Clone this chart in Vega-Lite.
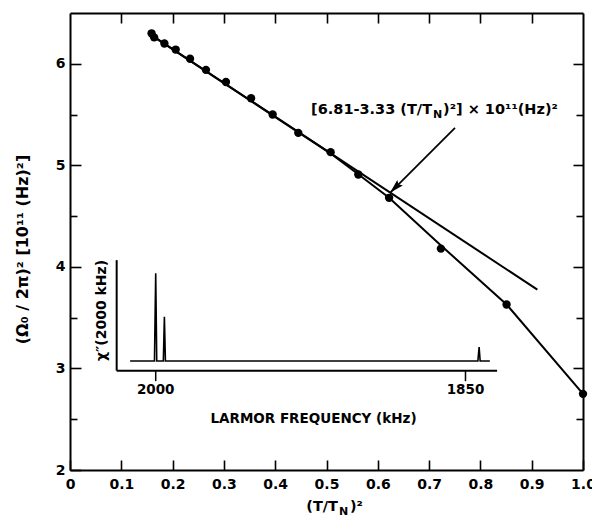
{
  "$schema": "https://vega.github.io/schema/vega-lite/v6.json",
  "width": 513,
  "height": 457,
  "autosize": {"type": "none"},
  "padding": {"left": 70, "top": 13, "right": 9, "bottom": 55},
  "background": "white",
  "config": {
    "view": {"stroke": null},
    "font": "DejaVu Sans",
    "axis": {
      "grid": false,
      "domainColor": "black",
      "domainWidth": 2,
      "tickColor": "black",
      "tickWidth": 1.6,
      "labelColor": "black",
      "labelFont": "DejaVu Sans",
      "labelFontWeight": "bold",
      "labelFontSize": 14,
      "titleColor": "black",
      "titleFont": "DejaVu Sans",
      "titleFontWeight": "bold",
      "titleFontSize": 16
    }
  },
  "datasets": {
    "points": [
      {"x": 0.159, "y": 6.30},
      {"x": 0.164, "y": 6.26},
      {"x": 0.184, "y": 6.20},
      {"x": 0.206, "y": 6.14},
      {"x": 0.234, "y": 6.05},
      {"x": 0.265, "y": 5.94},
      {"x": 0.304, "y": 5.82},
      {"x": 0.353, "y": 5.66},
      {"x": 0.395, "y": 5.50},
      {"x": 0.445, "y": 5.32},
      {"x": 0.508, "y": 5.13},
      {"x": 0.562, "y": 4.91},
      {"x": 0.622, "y": 4.68},
      {"x": 0.723, "y": 4.18},
      {"x": 0.851, "y": 3.63},
      {"x": 1.000, "y": 2.75}
    ],
    "fit": [
      {"x": 0.155, "y": 6.294},
      {"x": 0.911, "y": 3.776}
    ],
    "curve": [
      {"x": 0.157, "y": 6.287},
      {"x": 0.30, "y": 5.81},
      {"x": 0.45, "y": 5.31},
      {"x": 0.51, "y": 5.11},
      {"x": 0.56, "y": 4.92},
      {"x": 0.622, "y": 4.68},
      {"x": 0.72, "y": 4.225},
      {"x": 0.851, "y": 3.63},
      {"x": 1.0, "y": 2.75}
    ],
    "arrow": [{"x": 0.7505, "y": 5.369, "x2": 0.6238, "y2": 4.729}],
    "textA": [
      {"x": 0.7057, "y": 5.54, "t": "[6.81-3.33  (T/T"},
      {"x": 0.5224, "y": 1.635, "t": "(T/T"}
    ],
    "textN": [
      {"x": 0.7076, "y": 5.54, "t": "N"},
      {"x": 0.5244, "y": 1.635, "t": "N"}
    ],
    "textB": [
      {"x": 0.7271, "y": 5.54, "t": ")²] × 10¹¹(Hz)²"},
      {"x": 0.5458, "y": 1.635, "t": ")²"}
    ],
    "spectrum": [
      {"i": 1, "f": 2012.4, "s": 0},
      {"i": 2, "f": 2000.6, "s": 0},
      {"i": 3, "f": 2000.0, "s": 1.0},
      {"i": 4, "f": 1999.5, "s": 0},
      {"i": 5, "f": 1996.3, "s": 0},
      {"i": 6, "f": 1995.8, "s": 0.505},
      {"i": 7, "f": 1995.3, "s": 0},
      {"i": 8, "f": 1844.0, "s": 0},
      {"i": 9, "f": 1843.4, "s": 0.16},
      {"i": 10, "f": 1842.9, "s": 0},
      {"i": 11, "f": 1838.2, "s": 0}
    ],
    "insetAxes": [
      {"f": 2018.9, "s": -0.11, "f2": 2018.9, "s2": 1.15},
      {"f": 2018.9, "s": -0.11, "f2": 1834.7, "s2": -0.11}
    ],
    "insetTicks": [
      {"f": 2000, "s": -0.11, "f2": 2000, "s2": -0.23},
      {"f": 1850, "s": -0.11, "f2": 1850, "s2": -0.23}
    ],
    "insetLabels": [
      {"f": 2000, "s": -0.33, "t": "2000"},
      {"f": 1850, "s": -0.33, "t": "1850"},
      {"f": 1923.6, "s": -0.656, "t": "LARMOR FREQUENCY (kHz)"}
    ],
    "insetYLabel": [
      {"f": 2026, "s": 0.576, "t": "χ″(2000 kHz)"}
    ]
  },
  "layer": [
    {
      "layer": [
        {
          "data": {"name": "points"},
          "mark": {"type": "point", "filled": true, "color": "black", "opacity": 1, "size": 70},
          "encoding": {
            "x": {
              "field": "x", "type": "quantitative",
              "scale": {"domain": [0, 1], "nice": false, "zero": false},
              "axis": {
                "orient": "bottom",
                "values": [0, 0.1, 0.2, 0.3, 0.4, 0.5, 0.6, 0.7, 0.8, 0.9, 1.0],
                "tickSize": -10,
                "labelPadding": 17,
                "labelFlush": false,
                "labelOverlap": false,
                "labelExpr": "datum.value == 0 ? '0' : format(datum.value, '.1f')",
                "title": null
              }
            },
            "y": {
              "field": "y", "type": "quantitative",
              "scale": {"domain": [2, 6.5], "nice": false, "zero": false},
              "axis": {
                "orient": "left",
                "values": [2, 2.5, 3, 3.5, 4, 4.5, 5, 5.5, 6],
                "tickSize": {"condition": {"test": "datum.value % 1 === 0", "value": -11}, "value": -7},
                "labelPadding": 16,
                "labelOverlap": false,
                "labelExpr": "datum.value % 1 === 0 ? format(datum.value, 'd') : ''",
                "title": "(Ω₀ / 2π)²   [10¹¹  (Hz)²]",
                "titleAngle": 270,
                "titleX": -48,
                "titleY": 236,
                "titleAlign": "center",
                "titleBaseline": "middle"
              }
            }
          }
        },
        {
          "data": {"name": "curve"},
          "mark": {"type": "line", "color": "black", "strokeWidth": 2},
          "encoding": {
            "x": {
              "field": "x", "type": "quantitative",
              "scale": {"domain": [0, 1], "nice": false, "zero": false},
              "axis": {
                "orient": "top",
                "values": [0.1, 0.2, 0.3, 0.4, 0.5, 0.6, 0.7, 0.8, 0.9],
                "tickSize": -10,
                "labels": false,
                "title": null
              }
            },
            "y": {
              "field": "y", "type": "quantitative",
              "scale": {"domain": [2, 6.5], "nice": false, "zero": false},
              "axis": {
                "orient": "right",
                "values": [2.5, 3, 3.5, 4, 4.5, 5, 5.5, 6],
                "tickSize": {"condition": {"test": "datum.value % 1 === 0", "value": -10}, "value": -7},
                "labels": false,
                "title": null
              }
            }
          }
        },
        {
          "data": {"name": "fit"},
          "mark": {"type": "line", "color": "black", "strokeWidth": 2},
          "encoding": {
            "x": {"field": "x", "type": "quantitative", "axis": null},
            "y": {"field": "y", "type": "quantitative", "axis": null}
          }
        },
        {
          "data": {"name": "arrow"},
          "mark": {"type": "rule", "color": "black", "strokeWidth": 1.8},
          "encoding": {
            "x": {"field": "x", "type": "quantitative", "axis": null},
            "y": {"field": "y", "type": "quantitative", "axis": null},
            "x2": {"field": "x2"},
            "y2": {"field": "y2"}
          }
        },
        {
          "data": {"name": "arrow"},
          "mark": {"type": "point", "shape": "M0,0 L-0.55,2 L0,1.7 L0.55,2 Z", "filled": true, "color": "black", "opacity": 1, "size": 200, "angle": 225},
          "encoding": {
            "x": {"field": "x2", "type": "quantitative", "axis": null},
            "y": {"field": "y2", "type": "quantitative", "axis": null}
          }
        },
        {
          "data": {"name": "textA"},
          "mark": {"type": "text", "align": "right", "baseline": "middle", "font": "DejaVu Sans", "fontWeight": "bold", "fontSize": 14.5, "color": "black"},
          "encoding": {
            "x": {"field": "x", "type": "quantitative", "axis": null},
            "y": {"field": "y", "type": "quantitative", "axis": null},
            "text": {"field": "t"}
          }
        },
        {
          "data": {"name": "textN"},
          "mark": {"type": "text", "align": "left", "baseline": "middle", "dy": 5, "font": "DejaVu Sans", "fontWeight": "bold", "fontSize": 11, "color": "black"},
          "encoding": {
            "x": {"field": "x", "type": "quantitative", "axis": null},
            "y": {"field": "y", "type": "quantitative", "axis": null},
            "text": {"field": "t"}
          }
        },
        {
          "data": {"name": "textB"},
          "mark": {"type": "text", "align": "left", "baseline": "middle", "font": "DejaVu Sans", "fontWeight": "bold", "fontSize": 14.5, "color": "black"},
          "encoding": {
            "x": {"field": "x", "type": "quantitative", "axis": null},
            "y": {"field": "y", "type": "quantitative", "axis": null},
            "text": {"field": "t"}
          }
        }
      ],
      "resolve": {"axis": {"x": "independent", "y": "independent"}}
    },
    {
      "layer": [
        {
          "data": {"name": "spectrum"},
          "mark": {"type": "line", "color": "black", "strokeWidth": 1.6},
          "encoding": {
            "x": {"field": "f", "type": "quantitative", "scale": {"domain": [1793.1, 2041.5], "reverse": true, "nice": false, "zero": false}, "axis": null},
            "y": {"field": "s", "type": "quantitative", "scale": {"domain": [-1.243, 3.968], "nice": false, "zero": false}, "axis": null},
            "order": {"field": "i", "type": "quantitative"}
          }
        },
        {
          "data": {"name": "insetAxes"},
          "mark": {"type": "rule", "color": "black", "strokeWidth": 2},
          "encoding": {
            "x": {"field": "f", "type": "quantitative", "axis": null},
            "y": {"field": "s", "type": "quantitative", "axis": null},
            "x2": {"field": "f2"},
            "y2": {"field": "s2"}
          }
        },
        {
          "data": {"name": "insetTicks"},
          "mark": {"type": "rule", "color": "black", "strokeWidth": 1.5},
          "encoding": {
            "x": {"field": "f", "type": "quantitative", "axis": null},
            "y": {"field": "s", "type": "quantitative", "axis": null},
            "x2": {"field": "f2"},
            "y2": {"field": "s2"}
          }
        },
        {
          "data": {"name": "insetLabels"},
          "mark": {"type": "text", "align": "center", "baseline": "middle", "font": "DejaVu Sans", "fontWeight": "bold", "fontSize": 13.5, "color": "black"},
          "encoding": {
            "x": {"field": "f", "type": "quantitative", "axis": null},
            "y": {"field": "s", "type": "quantitative", "axis": null},
            "text": {"field": "t"}
          }
        },
        {
          "data": {"name": "insetYLabel"},
          "mark": {"type": "text", "align": "center", "baseline": "middle", "angle": 270, "font": "DejaVu Sans", "fontWeight": "bold", "fontSize": 14, "color": "black"},
          "encoding": {
            "x": {"field": "f", "type": "quantitative", "axis": null},
            "y": {"field": "s", "type": "quantitative", "axis": null},
            "text": {"field": "t"}
          }
        }
      ]
    }
  ],
  "resolve": {"scale": {"x": "independent", "y": "independent"}}
}
